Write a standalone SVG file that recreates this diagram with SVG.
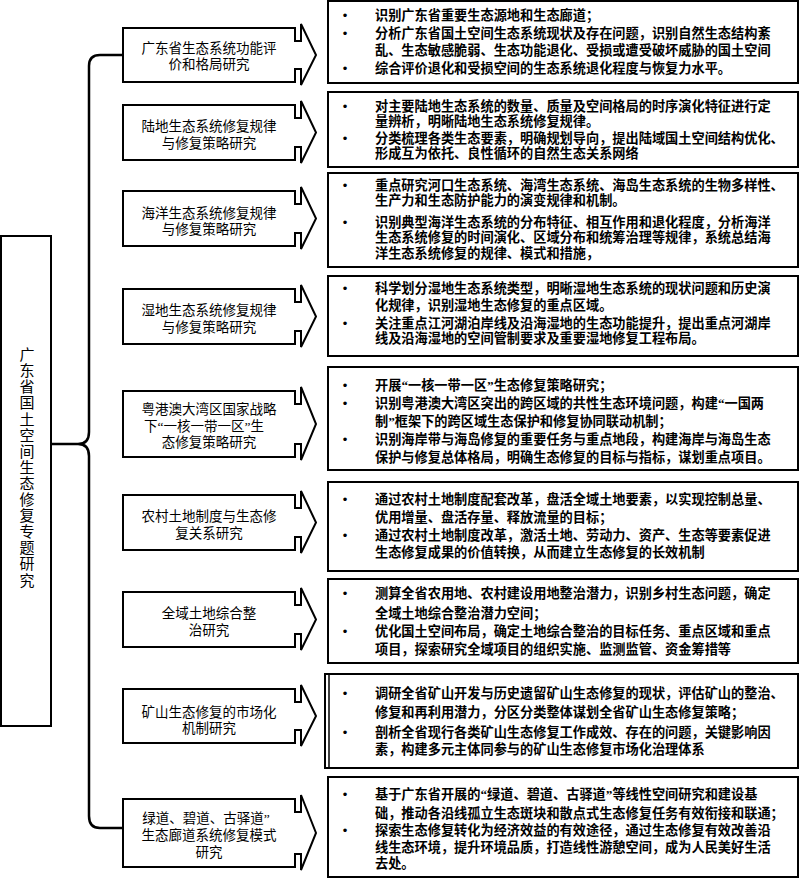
<svg xmlns="http://www.w3.org/2000/svg" width="800" height="879" viewBox="0 0 800 879">
<style>
.box{fill:#fff;stroke:#000;stroke-width:2}
.arr{fill:#fff;stroke:#000;stroke-width:2;stroke-linejoin:miter}
.conn{fill:none;stroke:#000;stroke-width:2.5}
.lt{font-family:"Noto Sans CJK SC","Noto Sans",sans-serif;font-size:13.5px;text-anchor:middle;fill:#000}
.rt{font-family:"Noto Sans CJK SC","Noto Sans",sans-serif;font-size:13.2px;font-weight:bold;fill:#000}
.q{font-family:"Liberation Serif",serif}
.bl{font-family:"Liberation Sans",sans-serif;font-size:13px;fill:#000;text-anchor:middle}
.root{font-family:"Noto Sans CJK SC","Noto Sans",sans-serif;font-size:15px;fill:#000;writing-mode:vertical-rl;letter-spacing:1.1px}
</style>
<rect width="800" height="879" fill="#fff"/>

<g id="connectors">
<path class="conn" d="M123,55 H100 Q89,55 89,66 V432 Q89,444 78,444 H52 M78,444 Q89,444 89,456 V816 Q89,828 100,828 H123"/>
</g>

<g id="root">
<rect class="box" x="1" y="236" width="50" height="490" stroke-width="1.5"/>
<text class="root" x="27" y="347">广东省国土空间生态修复专题研究</text>
</g>

<g id="n1">
<path class="arr" d="M123,28 H295 V41 H301 V24 L316,55 L301,85 V69 H295 V82 H123 Z"/>
<text class="lt"><tspan x="209" y="53">广东省生态系统功能评</tspan><tspan x="209" y="69">价和格局研究</tspan></text>
</g>
<g id="n2">
<path class="arr" d="M123,105 H295 V118 H301 V101 L316,132.5 L301,163 V147 H295 V160 H123 Z"/>
<text class="lt"><tspan x="209" y="131">陆地生态系统修复规律</tspan><tspan x="209" y="148">与修复策略研究</tspan></text>
</g>
<g id="n3">
<path class="arr" d="M123,191 H295 V204 H301 V187 L316,218.5 L301,249 V233 H295 V246 H123 Z"/>
<text class="lt"><tspan x="209" y="218">海洋生态系统修复规律</tspan><tspan x="209" y="234">与修复策略研究</tspan></text>
</g>
<g id="n4">
<path class="arr" d="M123,289 H295 V302 H301 V285 L316,316.5 L301,347 V331 H295 V344 H123 Z"/>
<text class="lt"><tspan x="209" y="315">湿地生态系统修复规律</tspan><tspan x="209" y="332">与修复策略研究</tspan></text>
</g>
<g id="n5">
<path class="arr" d="M123,391 H295 V404 H301 V387 L316,424 L301,460 V444 H295 V457 H123 Z"/>
<text class="lt"><tspan x="209" y="414">粤港澳大湾区国家战略</tspan><tspan x="204" y="431">下<tspan class="q">“</tspan>一核一带一区<tspan class="q">”</tspan>生</tspan><tspan x="209" y="447">态修复策略研究</tspan></text>
</g>
<g id="n6">
<path class="arr" d="M123,495 H295 V508 H301 V491 L316,522.5 L301,553 V537 H295 V550 H123 Z"/>
<text class="lt"><tspan x="209" y="521">农村土地制度与生态修</tspan><tspan x="209" y="538">复关系研究</tspan></text>
</g>
<g id="n7">
<path class="arr" d="M123,592 H295 V605 H301 V588 L316,619.5 L301,650 V634 H295 V647 H123 Z"/>
<text class="lt"><tspan x="209" y="618">全域土地综合整</tspan><tspan x="209" y="635">治研究</tspan></text>
</g>
<g id="n8">
<path class="arr" d="M123,689 H295 V702 H301 V685 L316,716 L301,746 V730 H295 V743 H123 Z"/>
<text class="lt"><tspan x="209" y="717">矿山生态修复的市场化</tspan><tspan x="209" y="733">机制研究</tspan></text>
</g>
<g id="n9">
<path class="arr" d="M123,799 H295 V812 H301 V795 L316,833 L301,870 V854 H295 V867 H123 Z"/>
<text class="lt"><tspan x="206" y="823">绿道、碧道、古驿道<tspan class="q">”</tspan></tspan><tspan x="209" y="840">生态廊道系统修复模式</tspan><tspan x="209" y="857">研究</tspan></text>
</g>

<g id="d1">
<rect class="box" x="328" y="1" width="470" height="82"/>
<text class="bl"><tspan x="345" y="20">•</tspan><tspan x="345" y="38">•</tspan><tspan x="345" y="73">•</tspan></text>
<text class="rt"><tspan x="375" y="20">识别广东省重要生态源地和生态廊道；</tspan><tspan x="375" y="38">分析广东省国土空间生态系统现状及存在问题，识别自然生态结构紊</tspan><tspan x="375" y="55">乱、生态敏感脆弱、生态功能退化、受损或遭受破坏威胁的国土空间</tspan><tspan x="375" y="73">综合评价退化和受损空间的生态系统退化程度与恢复力水平。</tspan></text>
</g>
<g id="d2">
<rect class="box" x="328" y="92" width="470" height="75"/>
<text class="bl"><tspan x="345" y="111">•</tspan><tspan x="345" y="143">•</tspan></text>
<text class="rt"><tspan x="375" y="111">对主要陆地生态系统的数量、质量及空间格局的时序演化特征进行定</tspan><tspan x="375" y="126">量辨析，明晰陆地生态系统修复规律。</tspan><tspan x="375" y="143">分类梳理各类生态要素，明确规划导向，提出陆域国土空间结构优化、</tspan><tspan x="375" y="158">形成互为依托、良性循环的自然生态关系网络</tspan></text>
</g>
<g id="d3">
<rect class="box" x="328" y="173" width="470" height="94"/>
<text class="bl"><tspan x="345" y="190">•</tspan><tspan x="345" y="227">•</tspan></text>
<text class="rt"><tspan x="375" y="190">重点研究河口生态系统、海湾生态系统、海岛生态系统的生物多样性、</tspan><tspan x="375" y="205">生产力和生态防护能力的演变规律和机制。</tspan><tspan x="375" y="227">识别典型海洋生态系统的分布特征、相互作用和退化程度，分析海洋</tspan><tspan x="375" y="242">生态系统修复的时间演化、区域分布和统筹治理等规律，系统总结海</tspan><tspan x="375" y="258">洋生态系统修复的规律、模式和措施，</tspan></text>
</g>
<g id="d4">
<rect class="box" x="328" y="276" width="470" height="80"/>
<text class="bl"><tspan x="345" y="293">•</tspan><tspan x="345" y="328">•</tspan></text>
<text class="rt"><tspan x="375" y="293">科学划分湿地生态系统类型，明晰湿地生态系统的现状问题和历史演</tspan><tspan x="375" y="310">化规律，识别湿地生态修复的重点区域。</tspan><tspan x="375" y="328">关注重点江河湖泊岸线及沿海湿地的生态功能提升，提出重点河湖岸</tspan><tspan x="375" y="343">线及沿海湿地的空间管制要求及重要湿地修复工程布局。</tspan></text>
</g>
<g id="d5">
<rect class="box" x="328" y="367" width="470" height="103"/>
<text class="bl"><tspan x="345" y="390">•</tspan><tspan x="345" y="408">•</tspan><tspan x="345" y="444">•</tspan></text>
<text class="rt"><tspan x="375" y="390">开展<tspan class="q">“</tspan>一核一带一区<tspan class="q">”</tspan>生态修复策略研究；</tspan><tspan x="375" y="408">识别粤港澳大湾区突出的跨区域的共性生态环境问题，构建<tspan class="q">“</tspan>一国两</tspan><tspan x="375" y="426">制<tspan class="q">”</tspan>框架下的跨区域生态保护和修复协同联动机制；</tspan><tspan x="375" y="444">识别海岸带与海岛修复的重要任务与重点地段，构建海岸与海岛生态</tspan><tspan x="375" y="462">保护与修复总体格局，明确生态修复的目标与指标，谋划重点项目。</tspan></text>
</g>
<g id="d6">
<rect class="box" x="328" y="482" width="470" height="89"/>
<text class="bl"><tspan x="345" y="504">•</tspan><tspan x="345" y="540">•</tspan></text>
<text class="rt"><tspan x="375" y="504">通过农村土地制度配套改革，盘活全域土地要素，以实现控制总量、</tspan><tspan x="375" y="522">优用增量、盘活存量、释放流量的目标；</tspan><tspan x="375" y="540">通过农村土地制度改革，激活土地、劳动力、资产、生态等要素促进</tspan><tspan x="375" y="557">生态修复成果的价值转换，从而建立生态修复的长效机制</tspan></text>
</g>
<g id="d7">
<rect class="box" x="328" y="579" width="470" height="84"/>
<text class="bl"><tspan x="345" y="598">•</tspan><tspan x="345" y="636">•</tspan></text>
<text class="rt"><tspan x="375" y="598">测算全省农用地、农村建设用地整治潜力，识别乡村生态问题，确定</tspan><tspan x="375" y="618">全域土地综合整治潜力空间；</tspan><tspan x="375" y="636">优化国土空间布局，确定土地综合整治的目标任务、重点区域和重点</tspan><tspan x="375" y="654">项目，探索研究全域项目的组织实施、监测监管、资金筹措等</tspan></text>
</g>
<g id="d8">
<rect class="box" x="325" y="674" width="473" height="94"/>
<line x1="329" y1="675" x2="329" y2="767" stroke="#000" stroke-width="1.5"/>
<text class="bl"><tspan x="345" y="698">•</tspan><tspan x="345" y="737">•</tspan></text>
<text class="rt"><tspan x="375" y="698">调研全省矿山开发与历史遗留矿山生态修复的现状，评估矿山的整治、</tspan><tspan x="375" y="717">修复和再利用潜力，分区分类整体谋划全省矿山生态修复策略；</tspan><tspan x="375" y="737">剖析全省现行各类矿山生态修复工作成效、存在的问题，关键影响因</tspan><tspan x="375" y="754">素，构建多元主体同参与的矿山生态修复市场化治理体系</tspan></text>
</g>
<g id="d9">
<rect class="box" x="328" y="777" width="470" height="100"/>
<text class="bl"><tspan x="345" y="799">•</tspan><tspan x="345" y="835">•</tspan></text>
<text class="rt"><tspan x="375" y="799">基于广东省开展的<tspan class="q">“</tspan>绿道、碧道、古驿道<tspan class="q">”</tspan>等线性空间研究和建设基</tspan><tspan x="375" y="818">础，推动各沿线孤立生态斑块和散点式生态修复任务有效衔接和联通；</tspan><tspan x="375" y="835">探索生态修复转化为经济效益的有效途径，通过生态修复有效改善沿</tspan><tspan x="375" y="852">线生态环境，提升环境品质，打造线性游憩空间，成为人民美好生活</tspan><tspan x="375" y="868">去处。</tspan></text>
</g>
</svg>
